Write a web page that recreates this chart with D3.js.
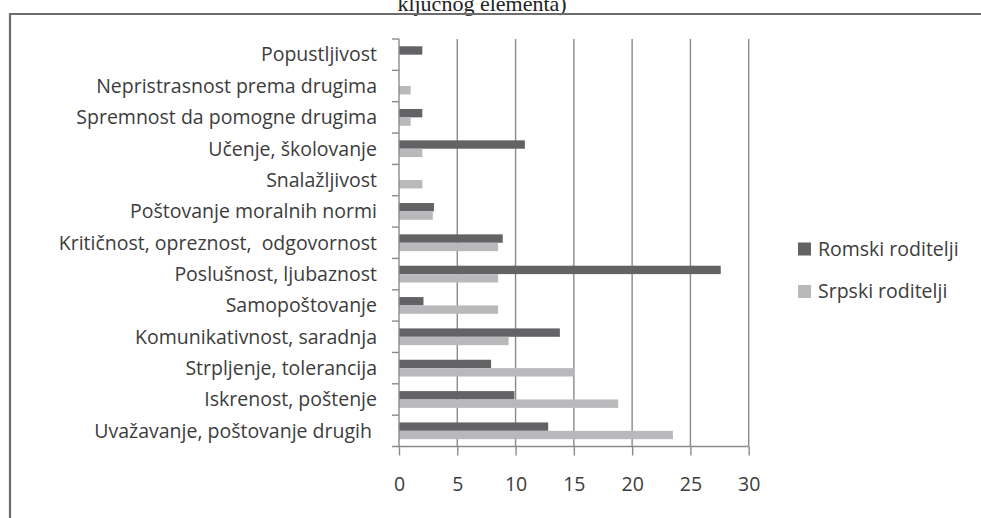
<!DOCTYPE html>
<html>
<head>
<meta charset="utf-8">
<script src="https://cdn.jsdelivr.net/npm/d3@7"></script>
<style>
  body { margin: 0; background: #fff; }
  svg { display: block; }
</style>
</head>
<body>
<script>
const categories = [
  "Popustljivost",
  "Nepristrasnost prema drugima",
  "Spremnost da pomogne drugima",
  "Učenje, školovanje",
  "Snalažljivost",
  "Poštovanje moralnih normi",
  "Kritičnost, opreznost,  odgovornost",
  "Poslušnost, ljubaznost",
  "Samopoštovanje",
  "Komunikativnost, saradnja",
  "Strpljenje, tolerancija",
  "Iskrenost, poštenje",
  "Uvažavanje, poštovanje drugih "
];
const romski = [2, 0, 2, 10.8, 0, 3, 8.9, 27.6, 2.1, 13.8, 7.9, 9.9, 12.8];
const srpski = [0, 1, 1, 2, 2, 2.9, 8.5, 8.5, 8.5, 9.4, 15, 18.8, 23.5];
const seriesNames = ["Romski roditelji", "Srpski roditelji"];
const seriesColors = ["#636366", "#b9b9bc"];
const xTicks = [0, 5, 10, 15, 20, 25, 30];

const width = 981, height = 518;
const margin = {top: 39, left: 399, right: 233, bottom: 71};
const font = "Open Sans";
const fontSize = 19.5;
const textColor = "#3c3c3c";

const svg = d3.select("body").append("svg")
  .attr("width", width)
  .attr("height", height);

// caption fragment above the frame (cut off in the source scan)
svg.append("text")
  .attr("x", 482)
  .attr("y", 11)
  .attr("text-anchor", "middle")
  .attr("font-family", "Liberation Serif")
  .attr("font-size", 22)
  .attr("fill", "#222")
  .text("ključnog elementa)");

// frame
svg.append("path")
  .attr("d", `M10,${height} V14 H${width}`)
  .attr("fill", "none")
  .attr("stroke", "#6d6d6f")
  .attr("stroke-width", 2.2);

const x = d3.scaleLinear()
  .domain([0, 30])
  .range([margin.left, width - margin.right + 0.7]);

const y = d3.scaleBand()
  .domain(categories)
  .range([margin.top, height - margin.bottom - 0.5])
  .paddingInner(0)
  .paddingOuter(0);

const ySub = d3.scaleBand()
  .domain([0, 1])
  .range([0, y.bandwidth()])
  .paddingInner(0)
  .paddingOuter(0.87);

const axisColor = "#8a8a8c";
const y0 = height - margin.bottom - 0.5;

// vertical gridlines
svg.append("g")
  .selectAll("line")
  .data(xTicks.slice(1))
  .join("line")
    .attr("x1", d => x(d))
    .attr("x2", d => x(d))
    .attr("y1", margin.top)
    .attr("y2", y0)
    .attr("stroke", axisColor)
    .attr("stroke-width", 1.4);

// bars
const rows = categories.map((c, i) => ({cat: c, vals: [romski[i], srpski[i]]}));
svg.append("g")
  .selectAll("g")
  .data(rows)
  .join("g")
    .attr("transform", d => `translate(0,${y(d.cat)})`)
  .selectAll("rect")
  .data(d => d.vals)
  .join("rect")
    .attr("x", x(0))
    .attr("y", (d, i) => ySub(i))
    .attr("width", d => x(d) - x(0))
    .attr("height", ySub.bandwidth())
    .attr("fill", (d, i) => seriesColors[i]);

// y axis line + ticks at band boundaries
const yg = svg.append("g");
yg.append("line")
  .attr("x1", x(0)).attr("x2", x(0))
  .attr("y1", margin.top).attr("y2", y0)
  .attr("stroke", axisColor).attr("stroke-width", 1.4);
yg.selectAll("line.tk")
  .data(categories)
  .join("line")
    .attr("class", "tk")
    .attr("x1", x(0) - 7).attr("x2", x(0))
    .attr("y1", d => y(d)).attr("y2", d => y(d))
    .attr("stroke", axisColor).attr("stroke-width", 1.4);
yg.selectAll("text")
  .data(categories)
  .join("text")
    .attr("x", 377)
    .attr("y", d => y(d) + y.bandwidth() / 2)
    .attr("dy", "0.35em")
    .attr("text-anchor", "end")
    .attr("font-family", font)
    .attr("font-size", fontSize)
    .attr("fill", textColor)
    .style("white-space", "pre")
    .text(d => d);

// x axis
const xg = svg.append("g")
  .attr("transform", `translate(0,${y0})`)
  .call(d3.axisBottom(x).tickValues(xTicks).tickSize(9).tickPadding(22));
xg.select(".domain")
  .attr("d", `M${x(0) - 7},0H${x(30)}`)
  .attr("stroke", axisColor).attr("stroke-width", 1.4);
xg.selectAll(".tick line").attr("stroke", axisColor).attr("stroke-width", 1.4);
xg.selectAll(".tick text")
  .attr("font-family", font)
  .attr("font-size", fontSize)
  .attr("fill", textColor);

// legend
const lg = svg.append("g")
  .selectAll("g")
  .data(seriesNames)
  .join("g")
    .attr("transform", (d, i) => `translate(798,${249 + i * 42.5})`);
lg.append("rect")
  .attr("x", 0).attr("y", -6.5)
  .attr("width", 13).attr("height", 13)
  .attr("fill", (d, i) => seriesColors[i]);
lg.append("text")
  .attr("x", 20)
  .attr("dy", "0.35em")
  .attr("font-family", font)
  .attr("font-size", fontSize)
  .attr("fill", textColor)
  .text(d => d);
</script>
</body>
</html>
